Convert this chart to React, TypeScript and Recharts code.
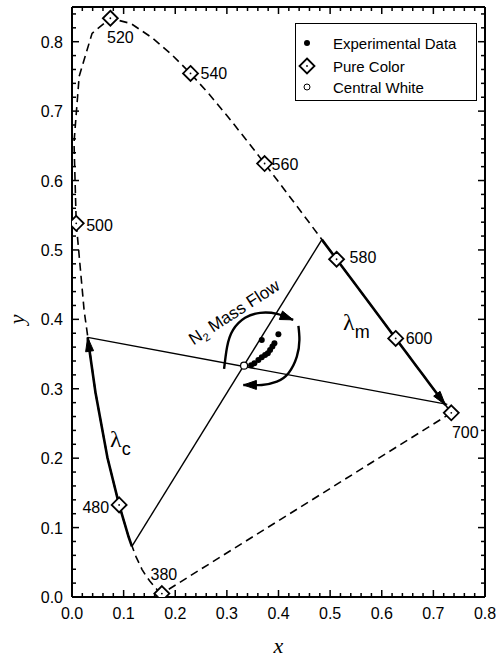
import React from "react";
import { ComposedChart, Line, Scatter, XAxis, YAxis, Legend, ReferenceLine } from "recharts";

const SANS = '"Liberation Sans", Arial, Helvetica, sans-serif';
const SERIF = '"Liberation Serif", "Times New Roman", serif';

// CIE 1931 spectral locus, 380 -> 700 nm
const locus = [
  { nm: 380, x: 0.1741, y: 0.005 },
  { nm: 400, x: 0.1733, y: 0.0048 },
  { nm: 420, x: 0.1714, y: 0.0051 },
  { nm: 430, x: 0.1689, y: 0.0069 },
  { nm: 440, x: 0.1644, y: 0.0109 },
  { nm: 445, x: 0.1611, y: 0.0138 },
  { nm: 450, x: 0.1566, y: 0.0177 },
  { nm: 455, x: 0.151, y: 0.0227 },
  { nm: 460, x: 0.144, y: 0.0297 },
  { nm: 465, x: 0.1355, y: 0.0399 },
  { nm: 470, x: 0.1241, y: 0.0578 },
  { nm: 475, x: 0.1096, y: 0.0868 },
  { nm: 480, x: 0.0913, y: 0.1327 },
  { nm: 485, x: 0.0687, y: 0.2007 },
  { nm: 490, x: 0.0454, y: 0.295 },
  { nm: 495, x: 0.0235, y: 0.4127 },
  { nm: 500, x: 0.0082, y: 0.5384 },
  { nm: 505, x: 0.0039, y: 0.6548 },
  { nm: 510, x: 0.0139, y: 0.7502 },
  { nm: 515, x: 0.0389, y: 0.812 },
  { nm: 520, x: 0.0743, y: 0.8338 },
  { nm: 525, x: 0.1142, y: 0.8262 },
  { nm: 530, x: 0.1547, y: 0.8059 },
  { nm: 535, x: 0.1929, y: 0.7816 },
  { nm: 540, x: 0.2296, y: 0.7543 },
  { nm: 545, x: 0.2658, y: 0.7243 },
  { nm: 550, x: 0.3016, y: 0.6923 },
  { nm: 555, x: 0.3373, y: 0.6589 },
  { nm: 560, x: 0.3731, y: 0.6245 },
  { nm: 565, x: 0.4087, y: 0.5896 },
  { nm: 570, x: 0.4441, y: 0.5547 },
  { nm: 575, x: 0.4788, y: 0.5202 },
  { nm: 580, x: 0.5125, y: 0.4866 },
  { nm: 585, x: 0.5448, y: 0.4544 },
  { nm: 590, x: 0.5752, y: 0.4242 },
  { nm: 595, x: 0.6029, y: 0.3965 },
  { nm: 600, x: 0.627, y: 0.3725 },
  { nm: 610, x: 0.6658, y: 0.334 },
  { nm: 620, x: 0.6915, y: 0.3083 },
  { nm: 630, x: 0.7079, y: 0.292 },
  { nm: 640, x: 0.719, y: 0.2809 },
  { nm: 650, x: 0.726, y: 0.274 },
  { nm: 660, x: 0.73, y: 0.27 },
  { nm: 680, x: 0.7334, y: 0.2666 },
  { nm: 700, x: 0.7347, y: 0.2653 },
];

// line of purples
const purpleLine = [
  { x: 0.7347, y: 0.2653 },
  { x: 0.1741, y: 0.005 },
];

const pureColors = [
  { nm: 380, x: 0.1741, y: 0.005 },
  { nm: 480, x: 0.0913, y: 0.1327 },
  { nm: 500, x: 0.0082, y: 0.5384 },
  { nm: 520, x: 0.0743, y: 0.8338 },
  { nm: 540, x: 0.2296, y: 0.7543 },
  { nm: 560, x: 0.3731, y: 0.6245 },
  { nm: 580, x: 0.5125, y: 0.4866 },
  { nm: 600, x: 0.627, y: 0.3725 },
  { nm: 700, x: 0.7347, y: 0.2653 },
];

const experimental = [
  { x: 0.3676, y: 0.3704 },
  { x: 0.3998, y: 0.3786 },
  { x: 0.3921, y: 0.3657 },
  { x: 0.3882, y: 0.3608 },
  { x: 0.3837, y: 0.356 },
  { x: 0.3793, y: 0.3512 },
  { x: 0.374, y: 0.3488 },
  { x: 0.3676, y: 0.3455 },
  { x: 0.361, y: 0.3416 },
  { x: 0.3533, y: 0.3368 },
  { x: 0.3469, y: 0.3339 },
];

const centralWhite = [{ x: 0.3333, y: 0.3333 }];

// dominant / complementary wavelength constructions
const lambdaC = [
  { x: 0.116, y: 0.073 },
  { x: 0.1096, y: 0.0868 },
  { x: 0.0913, y: 0.1327 },
  { x: 0.0687, y: 0.2007 },
  { x: 0.0454, y: 0.295 },
  { x: 0.0303, y: 0.374 },
];

const lambdaM = [
  { x: 0.484, y: 0.5149 },
  { x: 0.5125, y: 0.4866 },
  { x: 0.5448, y: 0.4544 },
  { x: 0.5752, y: 0.4242 },
  { x: 0.6029, y: 0.3965 },
  { x: 0.627, y: 0.3725 },
  { x: 0.6482, y: 0.3514 },
  { x: 0.6658, y: 0.334 },
  { x: 0.6801, y: 0.3197 },
  { x: 0.6915, y: 0.3083 },
  { x: 0.7006, y: 0.2993 },
  { x: 0.7079, y: 0.292 },
  { x: 0.714, y: 0.2859 },
  { x: 0.719, y: 0.2809 },
  { x: 0.7232, y: 0.2768 },
];

const chordC = [
  { x: 0.0303, y: 0.374 },
  { x: 0.727, y: 0.2775 },
];

const chordM = [
  { x: 0.116, y: 0.073 },
  { x: 0.484, y: 0.5149 },
];

// N2 mass flow arrows
const flowUpper = [
  { x: 0.2946, y: 0.3286 },
  { x: 0.3004, y: 0.3603 },
  { x: 0.312, y: 0.3848 },
  { x: 0.3353, y: 0.4022 },
  { x: 0.3643, y: 0.4094 },
  { x: 0.3973, y: 0.4079 },
  { x: 0.4283, y: 0.3993 },
];

const flowLower = [
  { x: 0.4386, y: 0.3906 },
  { x: 0.4405, y: 0.3704 },
  { x: 0.4355, y: 0.3463 },
  { x: 0.4192, y: 0.3224 },
  { x: 0.3967, y: 0.3102 },
  { x: 0.3676, y: 0.3055 },
  { x: 0.332, y: 0.3055 },
];

const notes = [
  { x: 0.314, y: 0.4107, kind: "flow" },
  { x: 0.0736, y: 0.216, kind: "c" },
  { x: 0.525, y: 0.385, kind: "m" },
];

const xMajor = [0, 0.1, 0.2, 0.3, 0.4, 0.5, 0.6, 0.7, 0.8];
const yMajor = [0, 0.1, 0.2, 0.3, 0.4, 0.5, 0.6, 0.7, 0.8];
const xTicks = [
  0, 0.02, 0.04, 0.06, 0.08, 0.1, 0.12, 0.14, 0.16, 0.18, 0.2, 0.22, 0.24, 0.26,
  0.28, 0.3, 0.32, 0.34, 0.36, 0.38, 0.4, 0.42, 0.44, 0.46, 0.48, 0.5, 0.52,
  0.54, 0.56, 0.58, 0.6, 0.62, 0.64, 0.66, 0.68, 0.7, 0.72, 0.74, 0.76, 0.78, 0.8,
];
const yTicks = [
  0, 0.02, 0.04, 0.06, 0.08, 0.1, 0.12, 0.14, 0.16, 0.18, 0.2, 0.22, 0.24, 0.26,
  0.28, 0.3, 0.32, 0.34, 0.36, 0.38, 0.4, 0.42, 0.44, 0.46, 0.48, 0.5, 0.52,
  0.54, 0.56, 0.58, 0.6, 0.62, 0.64, 0.66, 0.68, 0.7, 0.72, 0.74, 0.76, 0.78,
  0.8, 0.82, 0.84,
];
const X_MAX = 0.8;
const Y_MAX = 0.85;

const legendItems = ["Experimental Data", "Pure Color", "Central White"];

const labelPos: Record<number, { dx: number; dy: number; anchor: string }> = {
  380: { dx: 2, dy: -14, anchor: "middle" },
  480: { dx: -10, dy: 8, anchor: "end" },
  500: { dx: 10, dy: 8, anchor: "start" },
  520: { dx: 10, dy: 25, anchor: "middle" },
  540: { dx: 10, dy: 6, anchor: "start" },
  560: { dx: 7, dy: 6, anchor: "start" },
  580: { dx: 13, dy: 4, anchor: "start" },
  600: { dx: 10, dy: 6, anchor: "start" },
  700: { dx: 14, dy: 25, anchor: "middle" },
};

const isMajor = (v: number) => Math.abs(v * 10 - Math.round(v * 10)) < 1e-6;

// inward tick marks on all four sides, placed by the chart scales
const bottomMarks = xTicks.map((v) => ({ x: v, y: 0 }));
const topMarks = xTicks.map((v) => ({ x: v, y: Y_MAX }));
const leftMarks = yTicks.map((v) => ({ x: 0, y: v }));
const rightMarks = yTicks.map((v) => ({ x: X_MAX, y: v }));

const tickShape = (side: "b" | "t" | "l" | "r", along: "x" | "y") => (p: any) => {
  const len = isMajor(p.payload[along]) ? 7 : 4;
  const d =
    side === "b" ? `M${p.cx},${p.cy} v${-len}` :
    side === "t" ? `M${p.cx},${p.cy} v${len}` :
    side === "l" ? `M${p.cx},${p.cy} h${len}` :
    `M${p.cx},${p.cy} h${-len}`;
  return <path d={d} stroke="#000" strokeWidth={1.5} fill="none" />;
};

function BottomLabel({ x, y, payload }: any) {
  return (
    <text x={x} y={y + 22} textAnchor="middle" fontSize={16} fontFamily={SANS} fill="#000">
      {payload.value.toFixed(1)}
    </text>
  );
}

function LeftLabel({ x, y, payload }: any) {
  return (
    <text x={x - 9} y={y + 6} textAnchor="end" fontSize={16} fontFamily={SANS} fill="#000">
      {payload.value.toFixed(1)}
    </text>
  );
}

const diamondPath = (cx: number, cy: number, r: number) =>
  `M${cx},${cy - r} L${cx + r},${cy} L${cx},${cy + r} L${cx - r},${cy} Z`;

function PureColorShape(props: any) {
  const { cx, cy, payload } = props;
  const pos = labelPos[payload.nm];
  return (
    <g>
      <path d={diamondPath(cx, cy, 7.5)} fill="#fff" stroke="#000" strokeWidth={1.8} />
      <circle cx={cx} cy={cy} r={0.9} fill="#000" />
      <text
        x={cx + pos.dx}
        y={cy + pos.dy}
        textAnchor={pos.anchor as any}
        fontSize={16}
        fontFamily={SANS}
        fill="#000"
      >
        {payload.nm}
      </text>
    </g>
  );
}

function NoteShape(props: any) {
  const { cx, cy, payload } = props;
  if (payload.kind === "flow") {
    return (
      <text
        x={cx}
        y={cy + 6}
        textAnchor="middle"
        fontSize={17}
        fontFamily={SANS}
        fill="#000"
        transform={`rotate(-33, ${cx}, ${cy})`}
      >
        N
        <tspan fontSize={11} dy={4}>2</tspan>
        <tspan dy={-4}> Mass Flow</tspan>
      </text>
    );
  }
  return (
    <text x={cx} y={cy} fontSize={24} fontFamily={SERIF} fill="#000">
      λ
      <tspan fontSize={18} fontFamily={SANS} dy={8}>
        {payload.kind}
      </tspan>
    </text>
  );
}

const arrowDot = (len: number, wid: number) => (props: any) => {
  const { index, points, cx, cy } = props;
  if (!points || index !== points.length - 1 || index < 1) return <g key={`d${index}`} />;
  const p = points[index - 1];
  const a = Math.atan2(cy - p.y, cx - p.x);
  const bx = cx - len * Math.cos(a);
  const by = cy - len * Math.sin(a);
  const nx = -Math.sin(a) * (wid / 2);
  const ny = Math.cos(a) * (wid / 2);
  return (
    <path
      key={`d${index}`}
      d={`M${cx},${cy} L${bx + nx},${by + ny} L${bx - nx},${by - ny} Z`}
      fill="#000"
      stroke="#000"
      strokeWidth={1}
    />
  );
};

function LegendBox() {
  return (
    <svg width={182} height={78} style={{ display: "block" }}>
      <rect x={0.5} y={0.5} width={181} height={77} fill="#fff" stroke="#000" strokeWidth={1} />
      <circle cx={12} cy={20} r={3} fill="#000" />
      <path d={diamondPath(12, 43, 7.5)} fill="#fff" stroke="#000" strokeWidth={1.8} />
      <circle cx={12} cy={43} r={0.9} fill="#000" />
      <circle cx={12} cy={64} r={3} fill="#fff" stroke="#000" strokeWidth={1} />
      {legendItems.map((t, i) => (
        <text
          key={t}
          x={38}
          y={[20, 43, 64][i] + 5.5}
          fontSize={15}
          fontFamily={SANS}
          fill="#000"
        >
          {t}
        </text>
      ))}
    </svg>
  );
}

const frame = { stroke: "#000", strokeWidth: 2 };

export default function App() {
  return (
    <div style={{ position: "absolute", left: 0, top: 0, background: "#fff" }}>
      <ComposedChart width={496} height={660} margin={{ top: 6, right: 10, bottom: 0, left: 0 }}>
        <XAxis
          type="number"
          dataKey="x"
          domain={[0, X_MAX]}
          allowDataOverflow
          ticks={xMajor}
          interval={0}
          height={63}
          tickSize={0}
          tickMargin={0}
          tickLine={false}
          axisLine={frame}
          tick={<BottomLabel />}
          label={{
            value: "x",
            position: "insideBottom",
            offset: 7,
            style: { fontFamily: SERIF, fontStyle: "italic", fontSize: 22, fill: "#000" },
          }}
        />
        <XAxis
          xAxisId="top"
          orientation="top"
          type="number"
          domain={[0, X_MAX]}
          ticks={xMajor}
          height={1}
          tickLine={false}
          tick={false}
          axisLine={frame}
        />
        <YAxis
          type="number"
          dataKey="y"
          domain={[0, Y_MAX]}
          allowDataOverflow
          ticks={yMajor}
          interval={0}
          width={72}
          tickSize={0}
          tickMargin={0}
          tickLine={false}
          axisLine={frame}
          tick={<LeftLabel />}
          label={{
            position: "insideLeft",
            content: ({ viewBox }: any) => {
              const lx = 17;
              const ly = viewBox.y + viewBox.height * (1 - 0.4 / Y_MAX);
              return (
                <text
                  x={lx}
                  y={ly}
                  textAnchor="middle"
                  dominantBaseline="central"
                  fontFamily={SERIF}
                  fontStyle="italic"
                  fontSize={22}
                  fill="#000"
                  transform={`rotate(-90, ${lx}, ${ly})`}
                >
                  y
                </text>
              );
            },
          }}
        />
        <YAxis
          yAxisId="right"
          orientation="right"
          type="number"
          domain={[0, Y_MAX]}
          ticks={yMajor}
          width={1}
          tickLine={false}
          tick={false}
          axisLine={frame}
        />

        <ReferenceLine x={0} {...frame} ifOverflow="visible" />
        <ReferenceLine x={X_MAX} {...frame} ifOverflow="visible" />
        <ReferenceLine y={0} {...frame} ifOverflow="visible" />
        <ReferenceLine y={Y_MAX} {...frame} ifOverflow="visible" />

        <Scatter data={bottomMarks} isAnimationActive={false} legendType="none" shape={tickShape("b", "x")} />
        <Scatter data={topMarks} isAnimationActive={false} legendType="none" shape={tickShape("t", "x")} />
        <Scatter data={leftMarks} isAnimationActive={false} legendType="none" shape={tickShape("l", "y")} />
        <Scatter data={rightMarks} isAnimationActive={false} legendType="none" shape={tickShape("r", "y")} />

        <Line data={locus} dataKey="y" type="linear" stroke="#000" strokeWidth={1.6} strokeDasharray="8 5" dot={false} isAnimationActive={false} legendType="none" />
        <Line data={purpleLine} dataKey="y" type="linear" stroke="#000" strokeWidth={1.6} strokeDasharray="8 5" dot={false} isAnimationActive={false} legendType="none" />
        <Line data={chordC} dataKey="y" type="linear" stroke="#000" strokeWidth={1.4} dot={false} isAnimationActive={false} legendType="none" />
        <Line data={chordM} dataKey="y" type="linear" stroke="#000" strokeWidth={1.4} dot={false} isAnimationActive={false} legendType="none" />
        <Line data={lambdaC} dataKey="y" type="linear" stroke="#000" strokeWidth={2.6} dot={arrowDot(14, 8)} isAnimationActive={false} legendType="none" />
        <Line data={lambdaM} dataKey="y" type="linear" stroke="#000" strokeWidth={2.6} dot={arrowDot(14, 8)} isAnimationActive={false} legendType="none" />
        <Line data={flowUpper} dataKey="y" type="natural" stroke="#000" strokeWidth={2.4} dot={arrowDot(13, 9)} isAnimationActive={false} legendType="none" />
        <Line data={flowLower} dataKey="y" type="natural" stroke="#000" strokeWidth={2.4} dot={arrowDot(13, 9)} isAnimationActive={false} legendType="none" />

        <Scatter name="Experimental Data" data={experimental} fill="#000" isAnimationActive={false}
          shape={(p: any) => <circle cx={p.cx} cy={p.cy} r={3} fill="#000" />} />
        <Scatter name="Pure Color" data={pureColors} isAnimationActive={false} shape={(p: any) => <PureColorShape {...p} />} />
        <Scatter name="Central White" data={centralWhite} isAnimationActive={false}
          shape={(p: any) => <circle cx={p.cx} cy={p.cy} r={3.5} fill="#fff" stroke="#000" strokeWidth={1.2} />} />
        <Scatter data={notes} isAnimationActive={false} legendType="none" shape={(p: any) => <NoteShape {...p} />} />

        <Legend
          layout="horizontal"
          verticalAlign="middle"
          align="center"
          wrapperStyle={{ left: 295, top: 23, width: 182, height: 78 }}
          content={() => <LegendBox />}
        />
      </ComposedChart>
    </div>
  );
}
